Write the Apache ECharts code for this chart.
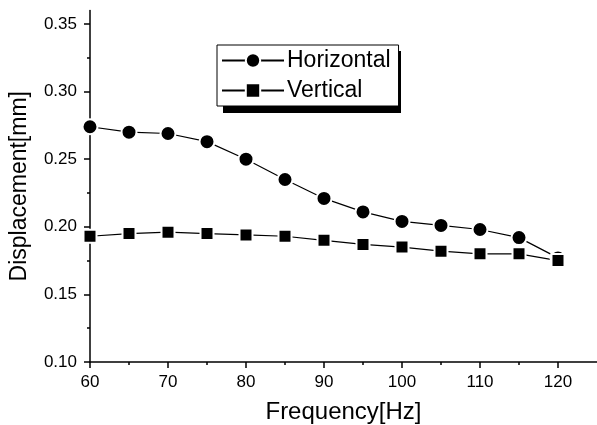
<!DOCTYPE html>
<html>
<head>
    <meta charset="utf-8">
    <title>Displacement vs Frequency</title>
    <script src="https://cdn.jsdelivr.net/npm/echarts@6/dist/echarts.min.js"></script>
</head>
<body style="margin:0;background:#fff;">
<div id="main" style="width: 597px;height:425px;"></div>
<script>

// data
var freq = [60, 65, 70, 75, 80, 85, 90, 95, 100, 105, 110, 115, 120];
var horizontal = [0.274, 0.270, 0.269, 0.263, 0.250, 0.235, 0.221, 0.211, 0.204, 0.201, 0.198, 0.192, 0.177];
var vertical = [0.193, 0.195, 0.196, 0.195, 0.194, 0.193, 0.190, 0.187, 0.185, 0.182, 0.180, 0.180, 0.175];

var xTicks = [60, 70, 80, 90, 100, 110, 120];
var xMinor = [65, 75, 85, 95, 105, 115];
var yTicks = [0.10, 0.15, 0.20, 0.25, 0.30, 0.35];
var yMinor = [0.125, 0.175, 0.225, 0.275, 0.325];

function pairs(xs, ys) {
    return xs.map(function (x, i) { return [x, ys[i]]; });
}

var font = 'Liberation Sans, Arial, sans-serif';
var xMin = 60, xMax = 125, yMin = 0.10, yMax = 0.36;

// second axis pair only carries the minor ticks
option = {
    animation: false,
    backgroundColor: '#fff',
    grid: { left: 90, right: 0, top: 10.5, bottom: 63, outerBoundsMode: 'none', containLabel: false },
    // drop shadow of the legend box
    graphic: [{
        type: 'rect',
        z: 0,
        shape: { x: 223, y: 51, width: 178, height: 62 },
        style: { fill: '#000' }
    }],
    legend: {
        z: 10,
        orient: 'vertical',
        left: 217,
        top: 45,
        width: 178,
        padding: [4, 8, 4, 4],
        itemGap: 7,
        itemWidth: 62,
        itemHeight: 18,
        backgroundColor: '#fff',
        borderColor: '#000',
        borderWidth: 1,
        borderRadius: 0,
        textStyle: { fontFamily: font, fontSize: 23, color: '#000', padding: [0, 0, 0, -2] },
        data: ['Horizontal', 'Vertical']
    },
    xAxis: [{
        type: 'value',
        min: xMin, max: xMax,
        name: 'Frequency[Hz]',
        nameLocation: 'middle',
        nameGap: 38,
        nameTextStyle: { fontFamily: font, fontSize: 24, color: '#000' },
        splitLine: { show: false },
        axisLine: { lineStyle: { color: '#000', width: 1.5 } },
        axisTick: { customValues: xTicks, length: 6, lineStyle: { color: '#000', width: 1.5 } },
        axisLabel: { customValues: xTicks, fontFamily: font, fontSize: 17, color: '#000', margin: 12 }
    }, {
        type: 'value',
        min: xMin, max: xMax,
        position: 'bottom',
        splitLine: { show: false },
        axisLine: { show: false },
        axisTick: { customValues: xMinor, length: 3, lineStyle: { color: '#000', width: 1.5 } },
        axisLabel: { show: false }
    }],
    yAxis: [{
        type: 'value',
        min: yMin, max: yMax,
        name: 'Displacement[mm]',
        nameLocation: 'middle',
        nameRotate: 90,
        nameGap: 59,
        nameTextStyle: { fontFamily: font, fontSize: 23, color: '#000' },
        splitLine: { show: false },
        axisLine: { show: true, lineStyle: { color: '#000', width: 1.5 } },
        axisTick: { show: true, customValues: yTicks, length: 6, lineStyle: { color: '#000', width: 1.5 } },
        axisLabel: {
            customValues: yTicks, fontFamily: font, fontSize: 17, color: '#000', margin: 13,
            formatter: function (v) { return v.toFixed(2); }
        }
    }, {
        type: 'value',
        min: yMin, max: yMax,
        position: 'left',
        splitLine: { show: false },
        axisLine: { show: false },
        axisTick: { show: true, customValues: yMinor, length: 3, lineStyle: { color: '#000', width: 1.5 } },
        axisLabel: { show: false }
    }],
    series: [
        {
            name: 'Horizontal',
            type: 'line',
            data: pairs(freq, horizontal),
            symbol: 'circle',
            symbolSize: 15,
            lineStyle: { color: '#000', width: 1.2 },
            itemStyle: { color: '#000', borderColor: '#fff', borderWidth: 2 }
        },
        {
            name: 'Vertical',
            type: 'line',
            data: pairs(freq, vertical),
            symbol: 'rect',
            symbolSize: 13,
            lineStyle: { color: '#000', width: 1.2 },
            itemStyle: { color: '#000', borderColor: '#fff', borderWidth: 2 }
        }
    ]
};

var myChart = echarts.init(document.getElementById('main'));
myChart.setOption(option);

</script>
</body>
</html>
